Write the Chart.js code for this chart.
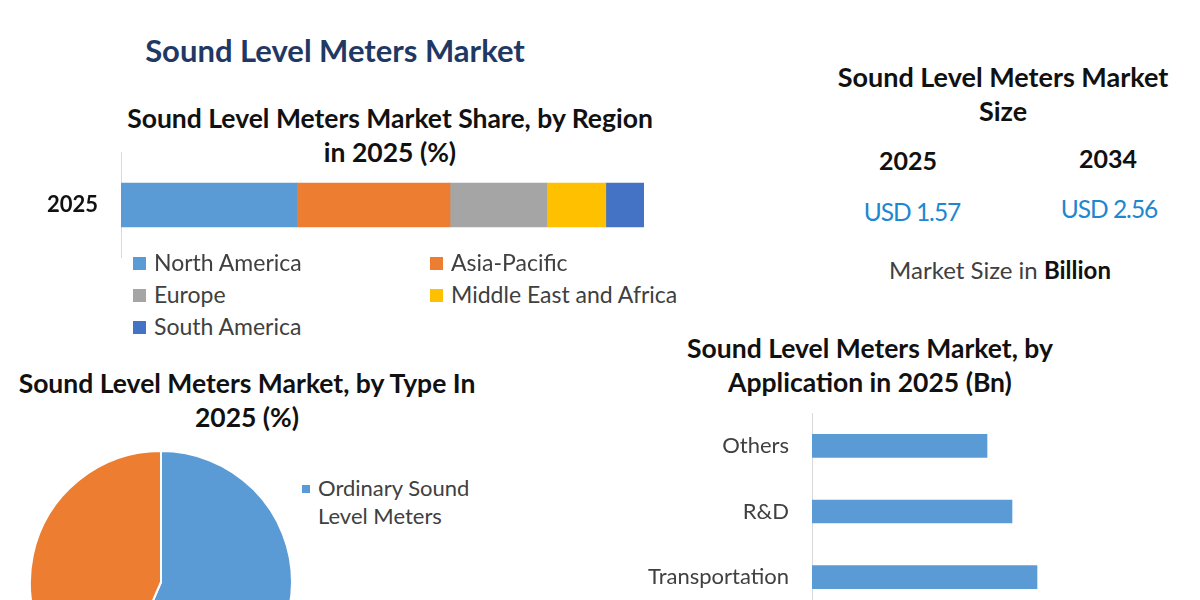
<!DOCTYPE html>
<html>
<head>
<meta charset="utf-8">
<script src="https://cdn.jsdelivr.net/npm/chart.js@4"></script>
<style>
  html, body { margin: 0; padding: 0; }
  body { width: 1200px; height: 600px; overflow: hidden; background: #fff; position: relative; font-family: Lato, "Open Sans", sans-serif; }
  .txt { position: absolute; text-align: center; white-space: nowrap; }
  .bold { font-weight: bold; }
  .box { position: absolute; }
  .legend { position: absolute; color: #404040; }
  .legend .item { position: absolute; white-space: nowrap; }
  .legend .sw { display: inline-block; width: 13px; height: 13px; margin-right: 8px; vertical-align: 1px; }
</style>
</head>
<body>

<div class="txt bold" style="left:85px;width:500px;top:32px;font-size:31px;line-height:36px;color:#1F3864;">Sound Level Meters Market</div>

<div class="txt bold" style="left:90px;width:600px;top:101px;font-size:26.5px;line-height:34px;color:#111;">Sound Level Meters Market Share, by Region<br>in 2025 (%)</div>

<div class="box" style="left:0;top:152px;width:680px;height:106px;"><canvas id="regionChart"></canvas></div>
<div id="regionLegend" class="legend" style="left:133px;top:248px;font-size:23px;line-height:28px;"></div>

<div class="txt bold" style="left:803px;width:400px;top:60px;font-size:27px;line-height:34px;color:#111;">Sound Level Meters Market<br>Size</div>
<div class="txt bold" style="left:808px;width:200px;top:145px;font-size:25px;line-height:30px;color:#111;" id="year0"></div>
<div class="txt bold" style="left:1008px;width:200px;top:143px;font-size:25px;line-height:30px;color:#111;" id="year1"></div>
<div class="txt" style="left:812px;width:200px;top:197px;font-size:24.5px;line-height:30px;color:#1F86D0;letter-spacing:-1px;" id="size0"></div>
<div class="txt" style="left:1009px;width:200px;top:194px;font-size:24.5px;line-height:30px;color:#1F86D0;letter-spacing:-1px;" id="size1"></div>
<div class="txt" style="left:850px;width:300px;top:256px;font-size:24px;line-height:28px;color:#404040;">Market Size in <b style="color:#111">Billion</b></div>

<div class="txt bold" style="left:0;width:494px;top:366px;font-size:26.5px;line-height:34px;color:#111;">Sound Level Meters Market, by Type In<br>2025 (%)</div>
<div class="box" style="left:29px;top:450px;width:264px;height:264px;"><canvas id="typeChart"></canvas></div>
<div id="typeLegend" class="legend" style="left:302px;top:474px;font-size:22px;line-height:28px;"></div>

<div class="txt bold" style="left:620px;width:500px;top:331px;font-size:26.5px;line-height:34px;color:#111;">Sound Level Meters Market, by<br>Application in 2025 (Bn)</div>
<div class="box" style="left:620px;top:413px;width:542px;height:197px;"><canvas id="appChart"></canvas></div>

<script>
// data
const regions = ["North America", "Asia-Pacific", "Europe", "Middle East and Africa", "South America"];
const regionShare = [33.6, 29.3, 18.5, 11.3, 7.3];
const regionColors = ["#5B9BD5", "#ED7D31", "#A5A5A5", "#FFC000", "#4472C4"];
const regionYear = ["2025"];

const sizeYears = ["2025", "2034"];
const sizeValues = ["1.57", "2.56"];

const types = ["Ordinary Sound Level Meters", "Integrating Sound Level Meters"];
const typeShare = [56.5, 43.5];
const typeColors = ["#5B9BD5", "#ED7D31"];

const applications = ["Others", "R&D", "Transportation"];
const appValues = [0.35, 0.40, 0.45];

const fontFamily = "Lato, 'Open Sans', sans-serif";

document.getElementById("year0").textContent = sizeYears[0];
document.getElementById("year1").textContent = sizeYears[1];
document.getElementById("size0").textContent = "USD " + sizeValues[0];
document.getElementById("size1").textContent = "USD " + sizeValues[1];

// region legend, 2 columns like the excel one
let regionLegend = document.getElementById("regionLegend");
regions.forEach((name, i) => {
    let item = document.createElement("div");
    item.className = "item";
    item.style.left = (i % 2 == 0 ? 0 : 297) + "px";
    item.style.top = (Math.floor(i / 2) * 32) + "px";
    item.innerHTML = `<span class="sw" style="background:${regionColors[i]}"></span>${name}`;
    regionLegend.appendChild(item);
});

let typeLegend = document.getElementById("typeLegend");
types.forEach((name, i) => {
    let item = document.createElement("div");
    item.className = "item";
    item.style.top = (i * 140) + "px";
    item.style.whiteSpace = "normal";
    item.style.width = "175px";
    item.style.paddingLeft = "16px";
    item.innerHTML = `<span class="sw" style="background:${typeColors[i]};width:8px;height:8px;position:absolute;left:0;top:11px"></span>${name}`;
    typeLegend.appendChild(item);
});

// the tick padding also gets added above/below the y axis, drop that
function fixYAxis(width) {
    return (scale) => {
        scale.width = width;
        scale.paddingTop = 0;
        scale.paddingBottom = 0;
    };
}

new Chart(document.getElementById("regionChart"), {
    type: 'bar',
    data: {
        labels: regionYear,
        datasets: regions.map((name, i) => ({
            label: name,
            data: [regionShare[i]],
            backgroundColor: regionColors[i],
            barThickness: 44
        }))
    },
    options: {
        indexAxis: 'y',
        responsive: true,
        maintainAspectRatio: false,
        animation: false,
        layout: { padding: { right: 36 } },
        plugins: { legend: { display: false }, tooltip: { enabled: false } },
        scales: {
            x: { stacked: true, display: false, min: 0, max: 100 },
            y: {
                stacked: true,
                grid: { display: false },
                border: { color: "#d9d9d9" },
                ticks: { color: "#111", padding: 15, font: { family: fontFamily, size: 22, weight: 'bold' } },
                afterFit: fixYAxis(121)
            }
        }
    }
});

new Chart(document.getElementById("typeChart"), {
    type: 'pie',
    data: {
        labels: types,
        datasets: [{
            data: typeShare,
            backgroundColor: typeColors,
            borderColor: "#fff",
            borderWidth: 2
        }]
    },
    options: {
        responsive: true,
        maintainAspectRatio: false,
        animation: false,
        plugins: { legend: { display: false }, tooltip: { enabled: false } }
    }
});

new Chart(document.getElementById("appChart"), {
    type: 'bar',
    data: {
        labels: applications,
        datasets: [{
            label: "2025",
            data: appValues,
            backgroundColor: "#5B9BD5",
            barThickness: 23
        }]
    },
    options: {
        indexAxis: 'y',
        responsive: true,
        maintainAspectRatio: false,
        animation: false,
        plugins: { legend: { display: false }, tooltip: { enabled: false } },
        scales: {
            x: { display: false, min: 0, max: 0.7 },
            y: {
                grid: { display: false },
                border: { color: "#d9d9d9" },
                ticks: { color: "#404040", padding: 15, font: { family: fontFamily, size: 22 } },
                afterFit: fixYAxis(192)
            }
        }
    }
});
</script>
</body>
</html>
